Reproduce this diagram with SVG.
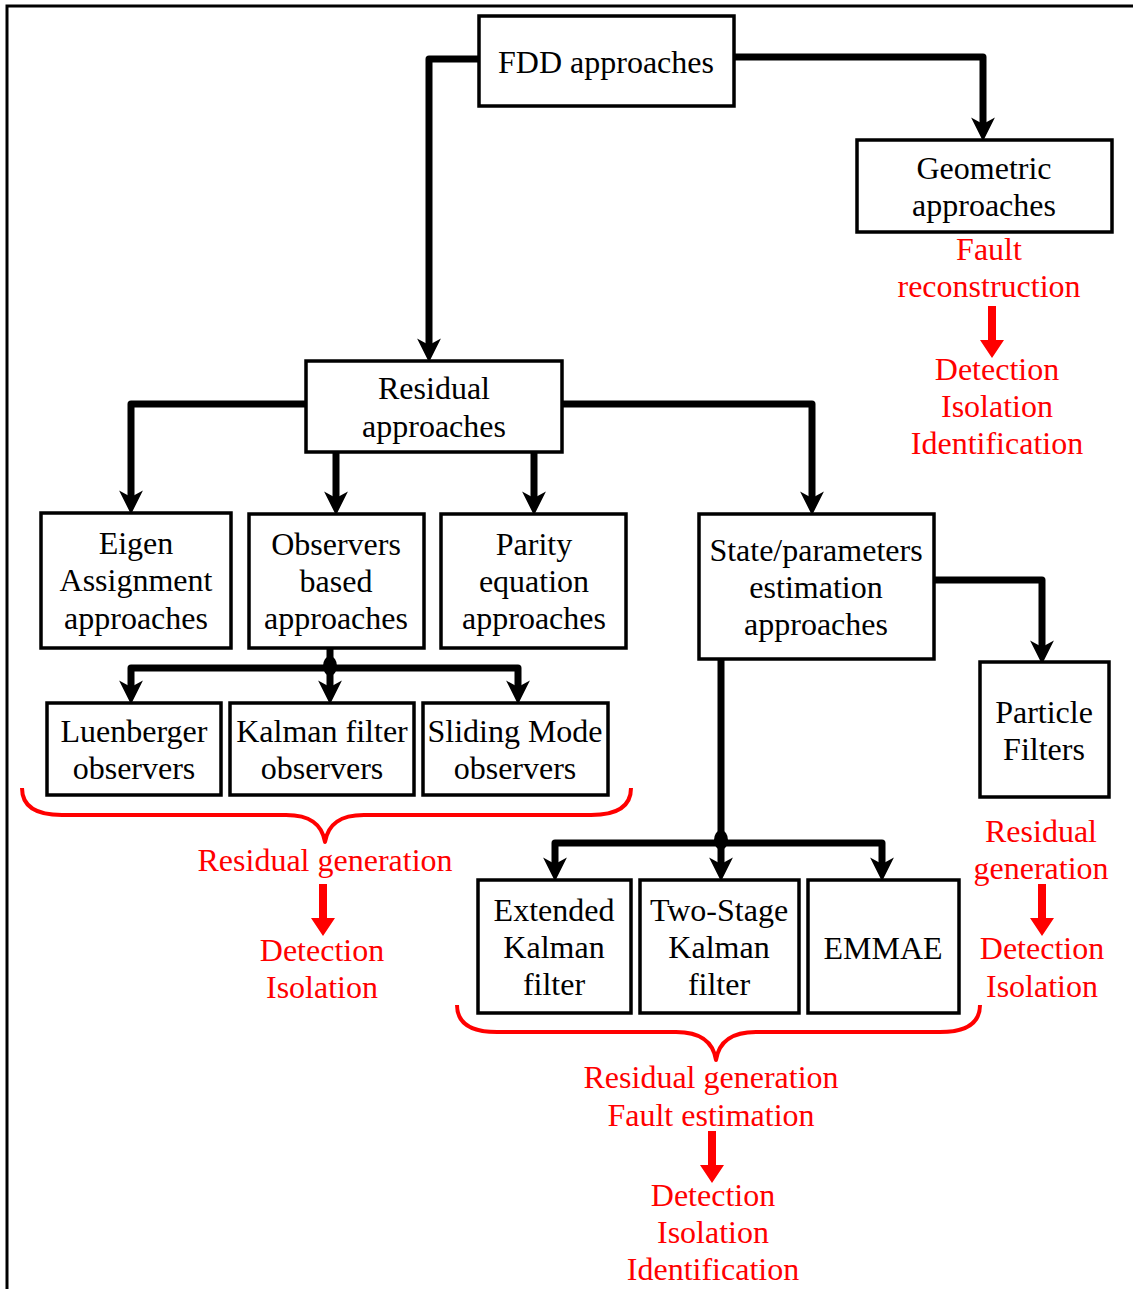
<svg xmlns="http://www.w3.org/2000/svg" width="1133" height="1289" viewBox="0 0 1133 1289">
  <style>
    .box { fill: #ffffff; stroke: #000000; stroke-width: 3.5; }
    .t { font-family: "Liberation Serif", "Times New Roman", serif; font-size: 32px; text-anchor: middle; fill: #000000; }
    .r { fill: #ff0000; }
    .link { fill: none; stroke: #000000; stroke-width: 7; stroke-linejoin: round; }
    .brace { fill: none; stroke: #ff0000; stroke-width: 4; stroke-linejoin: round; }
    .redarrow { fill: #ff0000; }
  </style>
  <defs>
    <marker id="head" markerUnits="userSpaceOnUse" markerWidth="24" markerHeight="26" viewBox="0 -12 22 24" refX="6" refY="0" orient="auto">
      <path d="M0,-11 L22,0 L0,11 L6,0 Z" fill="#000000"/>
    </marker>
    <path id="redhead" d="M-4,0 H4 V34 H12 L0,52 L-12,34 H-4 Z"/>
  </defs>

  <rect width="1133" height="1289" fill="#ffffff"/>
  <!-- outer frame -->
  <path d="M7,1289 V6 H1133" fill="none" stroke="#000000" stroke-width="3"/>

  <!-- connectors -->
  <g id="connectors">
    <path class="link" d="M479,59 H429 V345" marker-end="url(#head)"/>
    <path class="link" d="M734,57 H983 V124" marker-end="url(#head)"/>
    <path class="link" d="M306,404 H131 V497" marker-end="url(#head)"/>
    <path class="link" d="M336,452 V498" marker-end="url(#head)"/>
    <path class="link" d="M534,452 V498" marker-end="url(#head)"/>
    <path class="link" d="M562,404 H812 V498" marker-end="url(#head)"/>
    <path class="link" d="M934,580 H1042 V647" marker-end="url(#head)"/>

    <path class="link" d="M330,648 V668"/>
    <path class="link" d="M330,668 H131 V687" marker-end="url(#head)"/>
    <path class="link" d="M330,668 V687" marker-end="url(#head)"/>
    <path class="link" d="M330,668 H518 V687" marker-end="url(#head)"/>
    <ellipse cx="330" cy="666" rx="7" ry="10" fill="#000000"/>

    <path class="link" d="M721,659 V843"/>
    <path class="link" d="M721,843 H555 V864" marker-end="url(#head)"/>
    <path class="link" d="M721,843 V864" marker-end="url(#head)"/>
    <path class="link" d="M721,843 H882 V864" marker-end="url(#head)"/>
    <ellipse cx="721" cy="840" rx="7" ry="10" fill="#000000"/>
  </g>

  <!-- nodes -->
  <g id="fdd">
    <rect class="box" x="479" y="16" width="255" height="90"/>
    <text class="t" x="606" y="73">FDD approaches</text>
  </g>
  <g id="geometric">
    <rect class="box" x="857" y="140" width="255" height="92"/>
    <text class="t" x="984" y="179">Geometric</text>
    <text class="t" x="984" y="216">approaches</text>
  </g>
  <g id="residual">
    <rect class="box" x="306" y="361" width="256" height="91"/>
    <text class="t" x="434" y="399">Residual</text>
    <text class="t" x="434" y="437">approaches</text>
  </g>
  <g id="eigen">
    <rect class="box" x="41" y="513" width="190" height="135"/>
    <text class="t" x="136" y="554">Eigen</text>
    <text class="t" x="136" y="591">Assignment</text>
    <text class="t" x="136" y="629">approaches</text>
  </g>
  <g id="observers">
    <rect class="box" x="249" y="514" width="175" height="134"/>
    <text class="t" x="336" y="555">Observers</text>
    <text class="t" x="336" y="592">based</text>
    <text class="t" x="336" y="629">approaches</text>
  </g>
  <g id="parity">
    <rect class="box" x="441" y="514" width="185" height="134"/>
    <text class="t" x="534" y="555">Parity</text>
    <text class="t" x="534" y="592">equation</text>
    <text class="t" x="534" y="629">approaches</text>
  </g>
  <g id="state">
    <rect class="box" x="699" y="514" width="235" height="145"/>
    <text class="t" x="816" y="561">State/parameters</text>
    <text class="t" x="816" y="598">estimation</text>
    <text class="t" x="816" y="635">approaches</text>
  </g>
  <g id="particle">
    <rect class="box" x="980" y="662" width="129" height="135"/>
    <text class="t" x="1044" y="723">Particle</text>
    <text class="t" x="1044" y="760">Filters</text>
  </g>
  <g id="luenberger">
    <rect class="box" x="47" y="703" width="174" height="92"/>
    <text class="t" x="134" y="742">Luenberger</text>
    <text class="t" x="134" y="779">observers</text>
  </g>
  <g id="kalman-obs">
    <rect class="box" x="230" y="703" width="184" height="92"/>
    <text class="t" x="322" y="742">Kalman filter</text>
    <text class="t" x="322" y="779">observers</text>
  </g>
  <g id="sliding">
    <rect class="box" x="423" y="703" width="185" height="92"/>
    <text class="t" x="515" y="742">Sliding Mode</text>
    <text class="t" x="515" y="779">observers</text>
  </g>
  <g id="ekf">
    <rect class="box" x="478" y="880" width="153" height="133"/>
    <text class="t" x="554" y="921">Extended</text>
    <text class="t" x="554" y="958">Kalman</text>
    <text class="t" x="554" y="995">filter</text>
  </g>
  <g id="tskf">
    <rect class="box" x="640" y="880" width="159" height="133"/>
    <text class="t" x="719" y="921">Two-Stage</text>
    <text class="t" x="719" y="958">Kalman</text>
    <text class="t" x="719" y="995">filter</text>
  </g>
  <g id="emmae">
    <rect class="box" x="808" y="880" width="151" height="133"/>
    <text class="t" x="883" y="959">EMMAE</text>
  </g>

  <!-- braces -->
  <path class="brace" d="M22,788 C22,806 36,815 62,815 H286 C310,815 322,824 325,842 C328,824 340,815 364,815 H591 C617,815 631,806 631,788"/>
  <path class="brace" d="M457,1005 C457,1023 471,1032 497,1032 H676 C700,1032 713,1041 716,1060 C719,1041 732,1032 756,1032 H940 C966,1032 980,1023 980,1005"/>

  <!-- red flow arrows -->
  <use href="#redhead" class="redarrow" x="992" y="306"/>
  <use href="#redhead" class="redarrow" x="323" y="884"/>
  <use href="#redhead" class="redarrow" x="1042" y="884"/>
  <use href="#redhead" class="redarrow" x="712" y="1131"/>

  <!-- red annotations -->
  <g class="t r">
    <text class="t r" x="989" y="260">Fault</text>
    <text class="t r" x="989" y="297">reconstruction</text>
    <text class="t r" x="997" y="380">Detection</text>
    <text class="t r" x="997" y="417">Isolation</text>
    <text class="t r" x="997" y="454">Identification</text>

    <text class="t r" x="325" y="871">Residual generation</text>
    <text class="t r" x="322" y="961">Detection</text>
    <text class="t r" x="322" y="998">Isolation</text>

    <text class="t r" x="1041" y="842">Residual</text>
    <text class="t r" x="1041" y="879">generation</text>
    <text class="t r" x="1042" y="959">Detection</text>
    <text class="t r" x="1042" y="997">Isolation</text>

    <text class="t r" x="711" y="1088">Residual generation</text>
    <text class="t r" x="711" y="1126">Fault estimation</text>
    <text class="t r" x="713" y="1206">Detection</text>
    <text class="t r" x="713" y="1243">Isolation</text>
    <text class="t r" x="713" y="1280">Identification</text>
  </g>
</svg>
